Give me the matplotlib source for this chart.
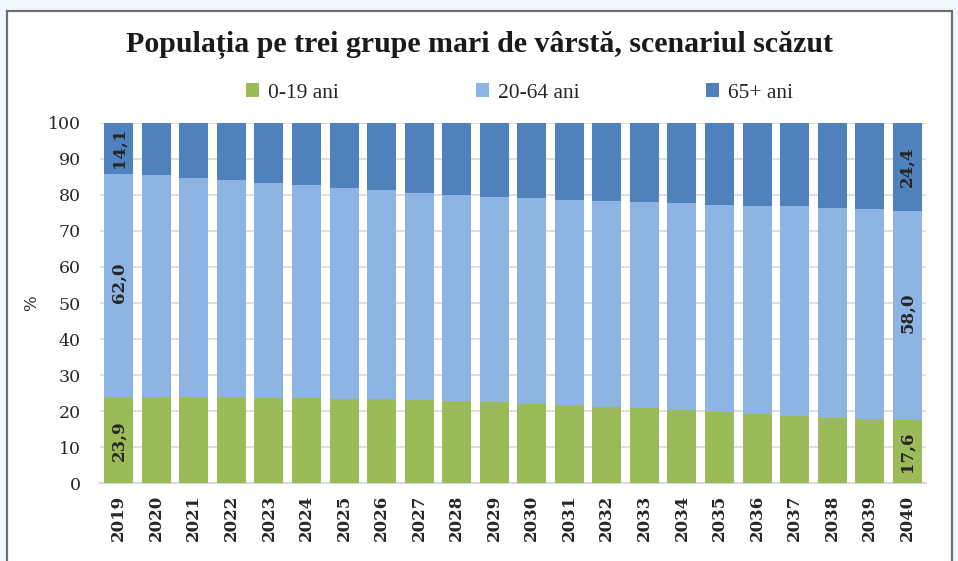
import matplotlib
matplotlib.use("Agg")
import matplotlib.pyplot as plt
from matplotlib.patches import Rectangle, Patch
import numpy as np

years = ["2019", "2020", "2021", "2022", "2023", "2024", "2025", "2026", "2027", "2028", "2029",
         "2030", "2031", "2032", "2033", "2034", "2035", "2036", "2037", "2038", "2039", "2040"]
age_0_19 = [23.9, 23.9, 23.9, 23.9, 23.7, 23.6, 23.4, 23.3, 23.1, 22.8, 22.5,
            22.1, 21.6, 21.2, 20.8, 20.3, 19.8, 19.2, 18.6, 18.1, 17.8, 17.6]
age_20_64 = [62.0, 61.5, 60.9, 60.3, 59.7, 59.1, 58.5, 57.9, 57.4, 57.2, 56.9,
             57.0, 57.0, 57.0, 57.1, 57.3, 57.5, 57.7, 58.2, 58.3, 58.3, 58.0]
age_65 = [14.1, 14.6, 15.2, 15.8, 16.6, 17.3, 18.1, 18.8, 19.5, 20.0, 20.6,
          20.9, 21.4, 21.8, 22.1, 22.4, 22.7, 23.1, 23.2, 23.6, 23.9, 24.4]
series_names = ["0-19 ani", "20-64 ani", "65+ ani"]
colors = ["#9BBB59", "#8EB4E3", "#4F81BD"]
yticks = [0, 10, 20, 30, 40, 50, 60, 70, 80, 90, 100]

W, H = 958, 561
fig = plt.figure(figsize=(W / 100, H / 100), dpi=100)
fig.patch.set_facecolor("#F2F7FD")
fig.patches.append(Rectangle((7 / W, -0.01), (952 - 7) / W, (H - 11) / H + 0.01,
                             transform=fig.transFigure, facecolor="white",
                             edgecolor="#6E6E6E", linewidth=1.6, zorder=-5))

ax = fig.add_axes([100 / W, (H - 483.3) / H, (926 - 100) / W, (483.3 - 122.7) / H])
ax.set_zorder(2)
ax.set_facecolor("white")
x = np.arange(len(years))
bw = 0.77
ax.bar(x, age_0_19, bw, color=colors[0], zorder=3)
ax.bar(x, age_20_64, bw, bottom=age_0_19, color=colors[1], zorder=3)
bottom3 = [a + b for a, b in zip(age_0_19, age_20_64)]
ax.bar(x, age_65, bw, bottom=bottom3, color=colors[2], zorder=3)

ax.set_xlim(-0.5, len(years) - 0.5)
ax.set_ylim(0, 100)
ax.set_yticks(yticks)
ax.yaxis.grid(True, color="#D9D9D9", linewidth=1.2, zorder=0)
ax.set_axisbelow(True)
for s in ["top", "right", "left"]:
    ax.spines[s].set_visible(False)
ax.spines["bottom"].set_color("#D9D9D9")
ax.spines["bottom"].set_linewidth(1.5)
ax.tick_params(axis="y", length=0, pad=14, labelsize=12.5, labelcolor="#262626")
ax.tick_params(axis="x", length=0, pad=8)
for lab in ax.get_yticklabels():
    lab.set_family("DejaVu Serif")
ax.set_xticks(x)
ax.set_xticklabels(years, rotation=90, family="DejaVu Serif", fontweight="bold",
                   fontsize=12, color="#262626")
ax.set_ylabel("%", family="DejaVu Serif", fontsize=12, color="#262626", labelpad=5)

lab_kw = dict(rotation=90, ha="center", va="center", family="DejaVu Serif",
              fontweight="bold", fontsize=12, color="#262626", zorder=5)
for i in [0, len(years) - 1]:
    ax.text(x[i], age_0_19[i] / 2, f"{age_0_19[i]:.1f}".replace(".", ","), **lab_kw)
    ax.text(x[i], age_0_19[i] + age_20_64[i] / 2 + 0.8, f"{age_20_64[i]:.1f}".replace(".", ","), **lab_kw)
    ax.text(x[i], bottom3[i] + age_65[i] / 2, f"{age_65[i]:.1f}".replace(".", ","), **lab_kw)

fig.text(480 / W, 1 - 45 / H, "Populația pe trei grupe mari de vârstă, scenariul scăzut",
         ha="center", va="center", family="Liberation Serif", fontweight="bold",
         fontsize=21.5, color="#1A1A1A")

leg_x = [227, 457, 687]
for name, c, lx in zip(series_names, colors, leg_x):
    leg = fig.legend(handles=[Patch(facecolor=c)], labels=[name], loc="center left",
                     bbox_to_anchor=(lx / W, 1 - 93 / H), frameon=False,
                     handlelength=0.6, handleheight=0.6, handletextpad=0.4,
                     prop={"family": "Liberation Serif", "size": 15.5})
    for t in leg.get_texts():
        t.set_color("#262626")

fig.savefig("out.png", dpi=100, facecolor=fig.get_facecolor())
